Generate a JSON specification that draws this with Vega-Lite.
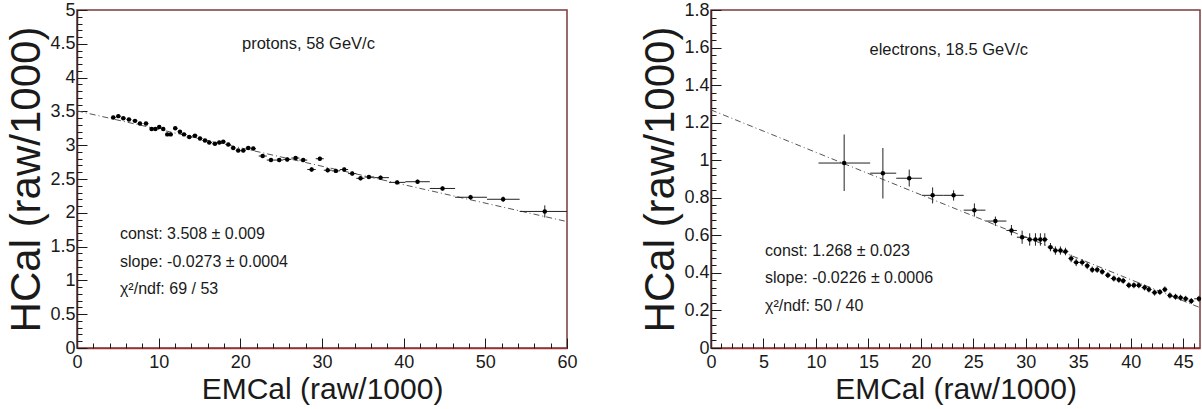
{
  "$schema": "https://vega.github.io/schema/vega-lite/v6.json",
  "padding": {"left": 5, "top": 0, "right": 0, "bottom": 0},
  "bounds": "flush",
  "spacing": 144,
  "config": {
    "view": {"stroke": "#7b3b3b", "strokeWidth": 1.5},
    "font": "Liberation Sans",
    "axis": {"labelFont": "Liberation Sans", "titleFont": "Liberation Sans", "grid": false, "labelColor": "#1a1a1a", "titleColor": "#1a1a1a", "titleFontWeight": "normal", "tickColor": "#1a1a1a", "tickWidth": 1},
    "text": {"font": "Liberation Sans"}
  },
  "datasets": {
    "pfit": [{"x": 0, "y": 3.508}, {"x": 60, "y": 1.87}],
    "efit": [{"x": 0, "y": 1.268}, {"x": 46.6, "y": 0.215}],
    "protons": [
      {"x":4.44,"y":3.41,"xlo":4.14,"xhi":4.74,"ylo":3.385,"yhi":3.435},
      {"x":5.06,"y":3.43,"xlo":4.76,"xhi":5.36,"ylo":3.405,"yhi":3.455},
      {"x":5.67,"y":3.40,"xlo":5.37,"xhi":5.97,"ylo":3.375,"yhi":3.425},
      {"x":6.36,"y":3.38,"xlo":6.06,"xhi":6.66,"ylo":3.355,"yhi":3.405},
      {"x":7.10,"y":3.36,"xlo":6.8,"xhi":7.4,"ylo":3.335,"yhi":3.385},
      {"x":7.71,"y":3.32,"xlo":7.41,"xhi":8.01,"ylo":3.295,"yhi":3.345},
      {"x":8.45,"y":3.32,"xlo":8.15,"xhi":8.75,"ylo":3.295,"yhi":3.345},
      {"x":9.14,"y":3.24,"xlo":8.9,"xhi":9.38,"ylo":3.215,"yhi":3.265},
      {"x":9.6,"y":3.24,"xlo":9.38,"xhi":9.82,"ylo":3.215,"yhi":3.265},
      {"x":10.07,"y":3.27,"xlo":9.82,"xhi":10.32,"ylo":3.245,"yhi":3.295},
      {"x":10.56,"y":3.24,"xlo":10.32,"xhi":10.8,"ylo":3.215,"yhi":3.265},
      {"x":11.05,"y":3.16,"xlo":10.8,"xhi":11.26,"ylo":3.135,"yhi":3.185},
      {"x":11.47,"y":3.16,"xlo":11.26,"xhi":11.75,"ylo":3.135,"yhi":3.185},
      {"x":12.03,"y":3.25,"xlo":11.75,"xhi":12.32,"ylo":3.225,"yhi":3.275},
      {"x":12.61,"y":3.20,"xlo":12.32,"xhi":12.85,"ylo":3.175,"yhi":3.225},
      {"x":13.10,"y":3.16,"xlo":12.85,"xhi":13.42,"ylo":3.135,"yhi":3.185},
      {"x":13.75,"y":3.12,"xlo":13.42,"xhi":14.1,"ylo":3.095,"yhi":3.145},
      {"x":14.44,"y":3.14,"xlo":14.1,"xhi":14.75,"ylo":3.115,"yhi":3.165},
      {"x":15.06,"y":3.10,"xlo":14.75,"xhi":15.36,"ylo":3.075,"yhi":3.125},
      {"x":15.67,"y":3.07,"xlo":15.36,"xhi":15.93,"ylo":3.045,"yhi":3.095},
      {"x":16.19,"y":3.04,"xlo":15.93,"xhi":16.54,"ylo":3.015,"yhi":3.065},
      {"x":16.89,"y":3.02,"xlo":16.54,"xhi":17.15,"ylo":2.995,"yhi":3.045},
      {"x":17.42,"y":3.04,"xlo":17.15,"xhi":17.66,"ylo":3.015,"yhi":3.065},
      {"x":17.91,"y":3.05,"xlo":17.66,"xhi":18.2,"ylo":3.025,"yhi":3.075},
      {"x":18.52,"y":3.01,"xlo":18.2,"xhi":18.82,"ylo":2.985,"yhi":3.035},
      {"x":19.13,"y":2.96,"xlo":18.82,"xhi":19.43,"ylo":2.935,"yhi":2.985},
      {"x":19.74,"y":2.92,"xlo":19.43,"xhi":20.05,"ylo":2.895,"yhi":2.945},
      {"x":20.36,"y":2.92,"xlo":20.05,"xhi":20.66,"ylo":2.895,"yhi":2.945},
      {"x":20.97,"y":2.96,"xlo":20.66,"xhi":21.27,"ylo":2.935,"yhi":2.985},
      {"x":21.58,"y":2.95,"xlo":21.27,"xhi":21.9,"ylo":2.925,"yhi":2.975},
      {"x":22.73,"y":2.84,"xlo":22.25,"xhi":23.24,"ylo":2.81,"yhi":2.87},
      {"x":23.75,"y":2.78,"xlo":23.24,"xhi":24.25,"ylo":2.75,"yhi":2.81},
      {"x":24.76,"y":2.78,"xlo":24.25,"xhi":25.25,"ylo":2.75,"yhi":2.81},
      {"x":25.74,"y":2.79,"xlo":25.25,"xhi":26.25,"ylo":2.76,"yhi":2.82},
      {"x":26.77,"y":2.81,"xlo":26.25,"xhi":27.23,"ylo":2.78,"yhi":2.84},
      {"x":27.70,"y":2.78,"xlo":27.23,"xhi":28.2,"ylo":2.75,"yhi":2.81},
      {"x":28.73,"y":2.64,"xlo":28.2,"xhi":29.23,"ylo":2.61,"yhi":2.67},
      {"x":29.74,"y":2.80,"xlo":29.23,"xhi":30.22,"ylo":2.77,"yhi":2.83},
      {"x":30.70,"y":2.63,"xlo":30.22,"xhi":31.2,"ylo":2.6,"yhi":2.66},
      {"x":31.70,"y":2.62,"xlo":31.2,"xhi":32.2,"ylo":2.59,"yhi":2.65},
      {"x":32.72,"y":2.64,"xlo":32.2,"xhi":33.2,"ylo":2.61,"yhi":2.67},
      {"x":33.70,"y":2.58,"xlo":33.2,"xhi":34.2,"ylo":2.55,"yhi":2.61},
      {"x":34.72,"y":2.51,"xlo":34.2,"xhi":35.2,"ylo":2.48,"yhi":2.54},
      {"x":35.74,"y":2.53,"xlo":35.2,"xhi":36.4,"ylo":2.5,"yhi":2.56},
      {"x":37.17,"y":2.52,"xlo":36.4,"xhi":38.2,"ylo":2.49,"yhi":2.55},
      {"x":39.20,"y":2.45,"xlo":38.2,"xhi":40.2,"ylo":2.42,"yhi":2.48},
      {"x":41.70,"y":2.46,"xlo":40.2,"xhi":43.2,"ylo":2.43,"yhi":2.49},
      {"x":44.76,"y":2.36,"xlo":43.2,"xhi":46.3,"ylo":2.33,"yhi":2.39},
      {"x":48.19,"y":2.23,"xlo":46.3,"xhi":50.2,"ylo":2.195,"yhi":2.265},
      {"x":52.18,"y":2.20,"xlo":50.2,"xhi":54.2,"ylo":2.16,"yhi":2.24},
      {"x":57.28,"y":2.02,"xlo":54.2,"xhi":60,"ylo":1.93,"yhi":2.11}
    ],
    "electrons": [
      {"x":12.69,"y":0.985,"xlo":10.24,"xhi":15.17,"ylo":0.836,"yhi":1.137},
      {"x":16.38,"y":0.931,"xlo":15.17,"xhi":17.65,"ylo":0.796,"yhi":1.065},
      {"x":18.89,"y":0.904,"xlo":17.65,"xhi":20.1,"ylo":0.86,"yhi":0.95},
      {"x":21.12,"y":0.813,"xlo":20.1,"xhi":22.17,"ylo":0.77,"yhi":0.855},
      {"x":23.12,"y":0.813,"xlo":22.17,"xhi":24.08,"ylo":0.785,"yhi":0.84},
      {"x":25.1,"y":0.734,"xlo":24.08,"xhi":26.15,"ylo":0.7,"yhi":0.77},
      {"x":27.1,"y":0.676,"xlo":26.15,"xhi":28.15,"ylo":0.65,"yhi":0.7},
      {"x":28.63,"y":0.626,"xlo":28.15,"xhi":29.15,"ylo":0.6,"yhi":0.655},
      {"x":29.65,"y":0.59,"xlo":29.15,"xhi":30.1,"ylo":0.555,"yhi":0.625},
      {"x":30.37,"y":0.578,"xlo":30.1,"xhi":30.65,"ylo":0.545,"yhi":0.611},
      {"x":30.92,"y":0.578,"xlo":30.65,"xhi":31.15,"ylo":0.545,"yhi":0.611},
      {"x":31.39,"y":0.578,"xlo":31.15,"xhi":31.6,"ylo":0.545,"yhi":0.611},
      {"x":31.81,"y":0.578,"xlo":31.6,"xhi":32.08,"ylo":0.545,"yhi":0.611},
      {"x":32.35,"y":0.537,"xlo":32.08,"xhi":32.58,"ylo":0.515,"yhi":0.559},
      {"x":32.82,"y":0.519,"xlo":32.58,"xhi":33.06,"ylo":0.497,"yhi":0.541},
      {"x":33.3,"y":0.519,"xlo":33.06,"xhi":33.54,"ylo":0.497,"yhi":0.541},
      {"x":33.78,"y":0.514,"xlo":33.54,"xhi":34.05,"ylo":0.494,"yhi":0.534},
      {"x":34.32,"y":0.477,"xlo":34.05,"xhi":34.56,"ylo":0.457,"yhi":0.497},
      {"x":34.8,"y":0.456,"xlo":34.56,"xhi":35.08,"ylo":0.436,"yhi":0.476},
      {"x":35.37,"y":0.456,"xlo":35.08,"xhi":35.61,"ylo":0.438,"yhi":0.474},
      {"x":35.85,"y":0.438,"xlo":35.61,"xhi":36.09,"ylo":0.42,"yhi":0.456},
      {"x":36.33,"y":0.417,"xlo":36.09,"xhi":36.56,"ylo":0.4,"yhi":0.434},
      {"x":36.8,"y":0.417,"xlo":36.56,"xhi":37.04,"ylo":0.4,"yhi":0.434},
      {"x":37.28,"y":0.406,"xlo":37.04,"xhi":37.55,"ylo":0.39,"yhi":0.422},
      {"x":37.82,"y":0.388,"xlo":37.55,"xhi":38.1,"ylo":0.372,"yhi":0.404},
      {"x":38.39,"y":0.37,"xlo":38.1,"xhi":38.63,"ylo":0.354,"yhi":0.386},
      {"x":38.87,"y":0.363,"xlo":38.63,"xhi":39.07,"ylo":0.347,"yhi":0.379},
      {"x":39.28,"y":0.358,"xlo":39.07,"xhi":39.55,"ylo":0.342,"yhi":0.374},
      {"x":39.82,"y":0.334,"xlo":39.55,"xhi":40.06,"ylo":0.318,"yhi":0.35},
      {"x":40.3,"y":0.334,"xlo":40.06,"xhi":40.53,"ylo":0.318,"yhi":0.35},
      {"x":40.77,"y":0.334,"xlo":40.53,"xhi":41.04,"ylo":0.318,"yhi":0.35},
      {"x":41.32,"y":0.322,"xlo":41.04,"xhi":41.52,"ylo":0.306,"yhi":0.338},
      {"x":41.73,"y":0.312,"xlo":41.52,"xhi":42.0,"ylo":0.296,"yhi":0.328},
      {"x":42.27,"y":0.295,"xlo":42.0,"xhi":42.52,"ylo":0.279,"yhi":0.311},
      {"x":42.78,"y":0.298,"xlo":42.52,"xhi":43.01,"ylo":0.282,"yhi":0.314},
      {"x":43.25,"y":0.312,"xlo":43.01,"xhi":43.49,"ylo":0.296,"yhi":0.328},
      {"x":43.73,"y":0.28,"xlo":43.49,"xhi":44.0,"ylo":0.264,"yhi":0.296},
      {"x":44.27,"y":0.273,"xlo":44.0,"xhi":44.51,"ylo":0.257,"yhi":0.289},
      {"x":44.75,"y":0.268,"xlo":44.51,"xhi":44.99,"ylo":0.252,"yhi":0.284},
      {"x":45.23,"y":0.262,"xlo":44.99,"xhi":45.5,"ylo":0.246,"yhi":0.278},
      {"x":45.77,"y":0.25,"xlo":45.5,"xhi":46.05,"ylo":0.234,"yhi":0.266},
      {"x":46.5,"y":0.262,"xlo":46.05,"xhi":46.6,"ylo":0.246,"yhi":0.278}
    ]
  },
  "hconcat": [
    {
      "width": 490,
      "height": 338,
      "resolve": {"axis": {"x": "independent", "y": "independent"}},
      "layer": [
        {
          "data": {"name": "pfit"},
          "mark": {"type": "line", "stroke": "#555555", "strokeWidth": 1, "strokeDash": [6, 3, 1, 3]},
          "encoding": {
            "x": {"field": "x", "type": "quantitative", "scale": {"domain": [0, 60], "nice": false, "zero": false},
              "axis": {"orient": "bottom", "values": [0, 10, 20, 30, 40, 50, 60], "format": "~f", "tickSize": -10, "labelPadding": 15, "labelFontSize": 18, "labelFlush": false, "labelOverlap": false, "domainColor": "#993333", "domainWidth": 1.5, "title": "EMCal (raw/1000)", "titleFontSize": 30, "titlePadding": 3}},
            "y": {"field": "y", "type": "quantitative", "scale": {"domain": [0, 5], "nice": false, "zero": false},
              "axis": {"orient": "left", "values": [0, 0.5, 1, 1.5, 2, 2.5, 3, 3.5, 4, 4.5, 5], "format": "~f", "tickSize": -10, "labelPadding": 12, "labelFontSize": 18, "labelFlush": false, "labelOverlap": false, "domainColor": "#3a2a2a", "domainWidth": 1.5, "title": "HCal (raw/1000)", "titleFontSize": 42, "titlePadding": 1}}
          }
        },
        {
          "data": {"name": "protons"},
          "mark": {"type": "rule", "color": "#222222", "strokeWidth": 1},
          "encoding": {
            "x": {"field": "xlo", "type": "quantitative", "axis": {"orient": "bottom", "values": [0,2,4,6,8,10,12,14,16,18,20,22,24,26,28,30,32,34,36,38,40,42,44,46,48,50,52,54,56,58,60], "labels": false, "domain": false, "tickSize": -5, "title": null}},
            "x2": {"field": "xhi"},
            "y": {"field": "y", "type": "quantitative", "axis": {"orient": "left", "values": [0,0.1,0.2,0.3,0.4,0.5,0.6,0.7,0.8,0.9,1,1.1,1.2,1.3,1.4,1.5,1.6,1.7,1.8,1.9,2,2.1,2.2,2.3,2.4,2.5,2.6,2.7,2.8,2.9,3,3.1,3.2,3.3,3.4,3.5,3.6,3.7,3.8,3.9,4,4.1,4.2,4.3,4.4,4.5,4.6,4.7,4.8,4.9,5], "labels": false, "domain": false, "tickSize": -5, "title": null}}
          }
        },
        {
          "data": {"name": "protons"},
          "mark": {"type": "rule", "color": "#222222", "strokeWidth": 1},
          "encoding": {
            "x": {"field": "x", "type": "quantitative", "axis": null},
            "y": {"field": "ylo", "type": "quantitative", "axis": null},
            "y2": {"field": "yhi"}
          }
        },
        {
          "data": {"name": "protons"},
          "mark": {"type": "point", "filled": true, "shape": "circle", "size": 20, "color": "#000000", "opacity": 1},
          "encoding": {
            "x": {"field": "x", "type": "quantitative", "axis": null},
            "y": {"field": "y", "type": "quantitative", "axis": null}
          }
        },
        {
          "data": {"values": [{}]},
          "mark": {"type": "text", "align": "left", "baseline": "middle", "fontSize": 16.5, "color": "#1a1a1a"},
          "encoding": {"x": {"datum": 20.2, "type": "quantitative", "axis": null}, "y": {"datum": 4.5, "type": "quantitative", "axis": null}, "text": {"value": "protons, 58 GeV/c"}}
        },
        {
          "data": {"values": [{}]},
          "mark": {"type": "text", "align": "left", "baseline": "middle", "fontSize": 16, "color": "#1a1a1a"},
          "encoding": {"x": {"datum": 5.26, "type": "quantitative", "axis": null}, "y": {"datum": 1.68, "type": "quantitative", "axis": null}, "text": {"value": "const: 3.508 ± 0.009"}}
        },
        {
          "data": {"values": [{}]},
          "mark": {"type": "text", "align": "left", "baseline": "middle", "fontSize": 16, "color": "#1a1a1a"},
          "encoding": {"x": {"datum": 5.26, "type": "quantitative", "axis": null}, "y": {"datum": 1.27, "type": "quantitative", "axis": null}, "text": {"value": "slope: -0.0273 ± 0.0004"}}
        },
        {
          "data": {"values": [{}]},
          "mark": {"type": "text", "align": "left", "baseline": "middle", "fontSize": 16, "color": "#1a1a1a"},
          "encoding": {"x": {"datum": 5.26, "type": "quantitative", "axis": null}, "y": {"datum": 0.87, "type": "quantitative", "axis": null}, "text": {"value": "χ²/ndf: 69 / 53"}}
        }
      ]
    },
    {
      "width": 489,
      "height": 338,
      "resolve": {"axis": {"x": "independent", "y": "independent"}},
      "layer": [
        {
          "data": {"name": "efit"},
          "mark": {"type": "line", "stroke": "#555555", "strokeWidth": 1, "strokeDash": [6, 3, 1, 3]},
          "encoding": {
            "x": {"field": "x", "type": "quantitative", "scale": {"domain": [0, 46.6], "nice": false, "zero": false},
              "axis": {"orient": "bottom", "values": [0, 5, 10, 15, 20, 25, 30, 35, 40, 45], "format": "~f", "tickSize": -10, "labelPadding": 15, "labelFontSize": 18, "labelFlush": false, "labelOverlap": false, "domainColor": "#993333", "domainWidth": 1.5, "title": "EMCal (raw/1000)", "titleFontSize": 30, "titlePadding": 3}},
            "y": {"field": "y", "type": "quantitative", "scale": {"domain": [0, 1.8], "nice": false, "zero": false},
              "axis": {"orient": "left", "values": [0, 0.2, 0.4, 0.6, 0.8, 1, 1.2, 1.4, 1.6, 1.8], "format": "~f", "tickSize": -10, "labelPadding": 12, "labelFontSize": 18, "labelFlush": false, "labelOverlap": false, "domainColor": "#3a2a2a", "domainWidth": 1.5, "title": "HCal (raw/1000)", "titleFontSize": 42, "titlePadding": 1}}
          }
        },
        {
          "data": {"name": "electrons"},
          "mark": {"type": "rule", "color": "#222222", "strokeWidth": 1},
          "encoding": {
            "x": {"field": "xlo", "type": "quantitative", "axis": {"orient": "bottom", "values": [0,1,2,3,4,5,6,7,8,9,10,11,12,13,14,15,16,17,18,19,20,21,22,23,24,25,26,27,28,29,30,31,32,33,34,35,36,37,38,39,40,41,42,43,44,45,46], "labels": false, "domain": false, "tickSize": -5, "title": null}},
            "x2": {"field": "xhi"},
            "y": {"field": "y", "type": "quantitative", "axis": {"orient": "left", "values": [0,0.04,0.08,0.12,0.16,0.2,0.24,0.28,0.32,0.36,0.4,0.44,0.48,0.52,0.56,0.6,0.64,0.68,0.72,0.76,0.8,0.84,0.88,0.92,0.96,1,1.04,1.08,1.12,1.16,1.2,1.24,1.28,1.32,1.36,1.4,1.44,1.48,1.52,1.56,1.6,1.64,1.68,1.72,1.76,1.8], "labels": false, "domain": false, "tickSize": -5, "title": null}}
          }
        },
        {
          "data": {"name": "electrons"},
          "mark": {"type": "rule", "color": "#222222", "strokeWidth": 1},
          "encoding": {
            "x": {"field": "x", "type": "quantitative", "axis": null},
            "y": {"field": "ylo", "type": "quantitative", "axis": null},
            "y2": {"field": "yhi"}
          }
        },
        {
          "data": {"name": "electrons"},
          "mark": {"type": "point", "filled": true, "shape": "circle", "size": 20, "color": "#000000", "opacity": 1},
          "encoding": {
            "x": {"field": "x", "type": "quantitative", "axis": null},
            "y": {"field": "y", "type": "quantitative", "axis": null}
          }
        },
        {
          "data": {"values": [{}]},
          "mark": {"type": "text", "align": "left", "baseline": "middle", "fontSize": 16.5, "color": "#1a1a1a"},
          "encoding": {"x": {"datum": 15.1, "type": "quantitative", "axis": null}, "y": {"datum": 1.585, "type": "quantitative", "axis": null}, "text": {"value": "electrons, 18.5 GeV/c"}}
        },
        {
          "data": {"values": [{}]},
          "mark": {"type": "text", "align": "left", "baseline": "middle", "fontSize": 16, "color": "#1a1a1a"},
          "encoding": {"x": {"datum": 5.15, "type": "quantitative", "axis": null}, "y": {"datum": 0.519, "type": "quantitative", "axis": null}, "text": {"value": "const: 1.268 ± 0.023"}}
        },
        {
          "data": {"values": [{}]},
          "mark": {"type": "text", "align": "left", "baseline": "middle", "fontSize": 16, "color": "#1a1a1a"},
          "encoding": {"x": {"datum": 5.15, "type": "quantitative", "axis": null}, "y": {"datum": 0.371, "type": "quantitative", "axis": null}, "text": {"value": "slope: -0.0226 ± 0.0006"}}
        },
        {
          "data": {"values": [{}]},
          "mark": {"type": "text", "align": "left", "baseline": "middle", "fontSize": 16, "color": "#1a1a1a"},
          "encoding": {"x": {"datum": 5.15, "type": "quantitative", "axis": null}, "y": {"datum": 0.226, "type": "quantitative", "axis": null}, "text": {"value": "χ²/ndf: 50 / 40"}}
        }
      ]
    }
  ]
}
